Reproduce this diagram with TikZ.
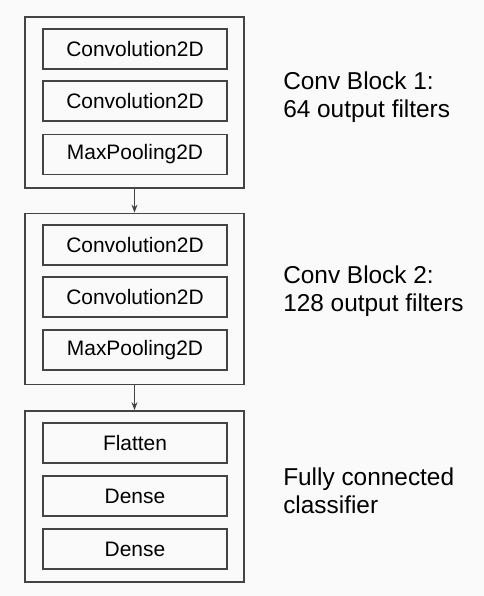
\documentclass[tikz,border=0pt]{standalone}
\usepackage{fontspec}
\setmainfont{Liberation Sans}
\usepackage{tikz}
\usetikzlibrary{arrows, arrows.meta}
\usetikzlibrary{positioning}
\definecolor{bgcol}{RGB}{250,250,250}
\definecolor{linecol}{RGB}{68,68,68}

\begin{document}
\begin{tikzpicture}[x=0.75pt,y=-0.75pt]
\tikzstyle{block}=[draw=linecol, line width=1.3pt, minimum width=164.25pt, minimum height=128.25pt, inner sep=0pt]
\tikzstyle{layer}=[draw=linecol, line width=1pt, minimum width=138pt, minimum height=30pt, inner sep=0pt, font=\fontsize{15.7}{18}\selectfont]
\tikzstyle{caption}=[anchor=west, align=left, inner sep=0pt, font=\fontsize{18.3}{21}\selectfont]
\tikzstyle{link}=[draw=linecol, line width=0.8pt, -{Stealth[length=6pt, width=4.5pt]}]
\fill [bgcol] (0,0) rectangle (484,596);
\useasboundingbox (0,0) rectangle (484,596);
\node [block] (b1) at (134.5,102.5) {};
\node [layer] (c11) at (135,49) {Convolution2D};
\node [layer] (c12) at (135,101) {Convolution2D};
\node [layer] (p1) at (135,154.5) {MaxPooling2D};
\node [caption] (t1) at (283,97) {Conv Block 1:\\64 output filters};
\node [block] (b2) at (134.5,299) {};
\node [layer] (c21) at (135,245) {Convolution2D};
\node [layer] (c22) at (135,297) {Convolution2D};
\node [layer] (p2) at (135,350) {MaxPooling2D};
\node [caption] (t2) at (283,291.5) {Conv Block 2:\\128 output filters};
\node [block] (b3) at (134.5,496.5) {};
\node [layer] (f3) at (135,443) {Flatten};
\node [layer] (d31) at (135,496) {Dense};
\node [layer] (d32) at (135,549) {Dense};
\node [caption] (t3) at (283,490.5) {Fully connected\\classifier};
\draw [link] (b1.south) -- (b2.north);
\draw [link] (b2.south) -- (b3.north);
\end{tikzpicture}
\end{document}
